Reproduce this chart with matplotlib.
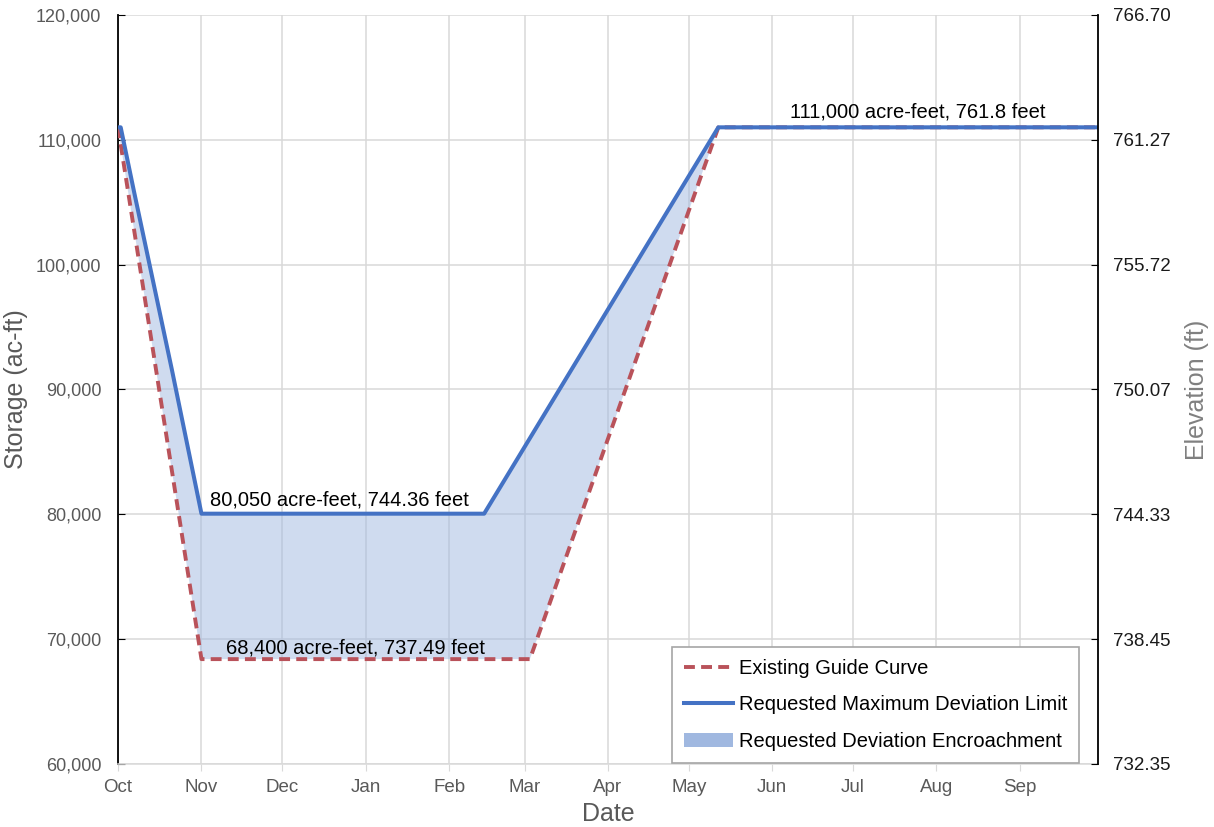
import matplotlib
matplotlib.use("Agg")
import matplotlib.pyplot as plt
import matplotlib.dates as mdates
from matplotlib.lines import Line2D
from matplotlib.patches import Patch
import numpy as np

plt.rcParams["font.family"] = ["Liberation Sans", "DejaVu Sans"]

# Existing guide curve (storage, ac-ft)
guide_dates = ["2020-10-01", "2020-11-01", "2021-03-03", "2021-05-12", "2021-09-30"]
guide_storage = [111000, 68400, 68400, 111000, 111000]

# Requested maximum deviation limit (storage, ac-ft)
limit_dates = ["2020-10-01", "2020-10-02", "2020-10-07", "2020-10-21", "2020-11-01",
               "2021-02-14", "2021-05-12", "2021-09-30"]
limit_storage = [111000, 111000, 105800, 91600, 80050, 80050, 111000, 111000]

# Axis ticks
month_starts = ["2020-10-01", "2020-11-01", "2020-12-01", "2021-01-01", "2021-02-01",
                "2021-03-01", "2021-04-01", "2021-05-01", "2021-06-01", "2021-07-01",
                "2021-08-01", "2021-09-01"]
storage_ticks = [60000, 70000, 80000, 90000, 100000, 110000, 120000]
elevation_labels = ["732.35", "738.45", "744.33", "750.07", "755.72", "761.27", "766.70"]

guide_x = np.array(guide_dates, dtype="datetime64[D]")
limit_x = np.array(limit_dates, dtype="datetime64[D]")
month_x = np.array(month_starts, dtype="datetime64[D]")

BLUE = "#4472c4"
RED = "#b9525a"
FILL = "#a0b8e0"
GRID = "#d9d9d9"
GREY = "#595959"

fig = plt.figure(figsize=(12.14, 8.27), dpi=100)
ax = fig.add_axes([0.0972, 0.0762, 0.8072, 0.9057])

# shaded encroachment between the two curves
poly_x = np.concatenate([mdates.date2num(limit_x), mdates.date2num(guide_x[::-1])])
poly_y = np.concatenate([limit_storage, guide_storage[::-1]])
ax.fill(poly_x, poly_y, color=FILL, alpha=0.5, lw=0, zorder=2)

ax.plot(guide_x, guide_storage, color=RED, lw=2.8, ls=(0, (2.8, 1.6)), zorder=3)
ax.plot(limit_x, limit_storage, color=BLUE, lw=2.9, zorder=4, solid_capstyle="butt")

ax.set_xlim(guide_x[0], guide_x[-1])
ax.set_ylim(60000, 120000)
ax.set_xticks(month_x)
ax.xaxis.set_major_formatter(mdates.DateFormatter("%b"))
ax.set_yticks(storage_ticks)
ax.set_yticklabels([f"{v:,}" for v in storage_ticks])

ax.grid(True, color=GRID, lw=1.1)
ax.set_axisbelow(True)
ax.tick_params(axis="x", direction="out", length=5, color=GRID, labelsize=13.5,
               labelcolor=GREY, pad=6)
ax.tick_params(axis="y", direction="in", length=5, color="black", labelsize=13,
               labelcolor=GREY, pad=12)
for side in ("top", "right"):
    ax.spines[side].set_visible(False)
ax.spines["bottom"].set_color(GRID)
ax.spines["bottom"].set_linewidth(1.1)
ax.spines["left"].set_color("black")
ax.spines["left"].set_linewidth(1.3)

ax.set_xlabel("Date", fontsize=18, color=GREY, labelpad=4)
ax.set_ylabel("Storage (ac-ft)", fontsize=18, color=GREY, labelpad=6)

# elevation on the secondary axis, same storage positions
ax2 = ax.twinx()
ax2.set_ylim(ax.get_ylim())
ax2.set_yticks(storage_ticks)
ax2.set_yticklabels(elevation_labels)
ax2.tick_params(axis="y", direction="in", length=5, color="black", labelsize=13.5,
                labelcolor="#1a1a1a", pad=11)
for side in ("top", "left", "bottom"):
    ax2.spines[side].set_visible(False)
ax2.spines["right"].set_color("black")
ax2.spines["right"].set_linewidth(1.3)
ax2.set_ylabel("Elevation (ft)", fontsize=18, color="#808080", labelpad=10)

# value callouts
ax.text(np.datetime64("2021-07-25"), 112250, "111,000 acre-feet, 761.8 feet",
        ha="center", va="center", fontsize=14.5, zorder=5)
ax.text(limit_x[4] + np.timedelta64(3, "D"), 81150, "80,050 acre-feet, 744.36 feet",
        ha="left", va="center", fontsize=14.5, zorder=5)
ax.text(guide_x[1] + np.timedelta64(9, "D"), 69300, "68,400 acre-feet, 737.49 feet",
        ha="left", va="center", fontsize=14.5, zorder=5)

handles = [
    Line2D([], [], color=RED, lw=2.8, ls=(0, (2.8, 1.6))),
    Line2D([], [], color=BLUE, lw=2.9),
    Patch(facecolor=FILL, edgecolor="none"),
]
labels = ["Existing Guide Curve", "Requested Maximum Deviation Limit",
          "Requested Deviation Encroachment"]
leg = ax.legend(handles, labels, loc="lower right", bbox_to_anchor=(0.981, 0.0015),
                borderaxespad=0, fontsize=14.5, handlelength=2.4, labelspacing=0.87,
                handletextpad=0.3, borderpad=0.6, fancybox=False, framealpha=1)
leg.get_frame().set_edgecolor("#a6a6a6")
leg.get_frame().set_linewidth(1.2)
leg.set_zorder(6)

fig.savefig("out.png", dpi=100)
